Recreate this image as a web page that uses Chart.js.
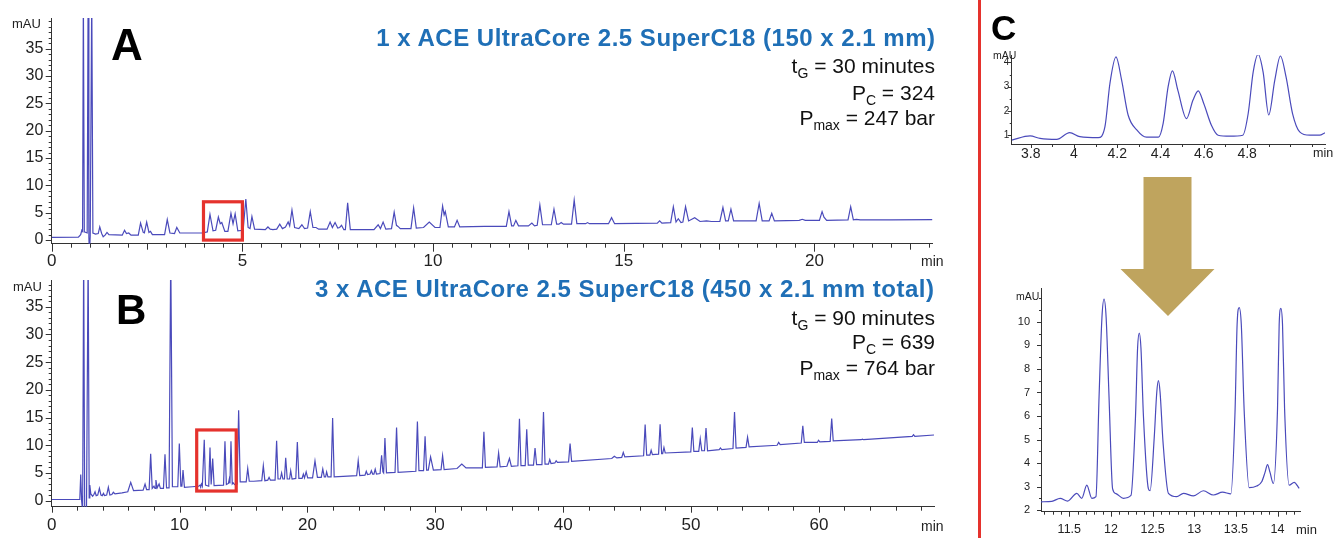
<!DOCTYPE html>
<html><head><meta charset="utf-8">
<script src="https://cdn.jsdelivr.net/npm/chart.js@4.4.1/dist/chart.umd.min.js"></script>
<style>
html,body{margin:0;padding:0;background:#fff;}
body{width:1333px;height:538px;position:relative;overflow:hidden;font-family:"Liberation Sans",Arial,sans-serif;}
canvas{position:absolute;}
.big{position:absolute;font-weight:bold;line-height:1;color:#000;white-space:nowrap;}
.ttl{position:absolute;font-weight:bold;color:#1f6fb6;white-space:nowrap;letter-spacing:0.5px;}
.row{position:absolute;color:#111;white-space:nowrap;}
.row span{position:relative;top:5px;font-size:14px;}
.lab{position:absolute;color:#222;white-space:nowrap;line-height:1;}
</style></head><body>
<canvas id="cA" width="965" height="268" style="left:0;top:0"></canvas>
<canvas id="cB" width="965" height="276" style="left:0;top:262px"></canvas>
<canvas id="cC1" width="348" height="170" style="left:985px;top:0"></canvas>
<canvas id="cC2" width="348" height="268" style="left:985px;top:270px"></canvas>

<div style="position:absolute;left:978px;top:0;width:3px;height:538px;background:#e5322d"></div>
<svg style="position:absolute;left:0;top:0" width="1333" height="538">
  <polygon points="1143.5,177 1191.5,177 1191.5,269 1214.5,269 1168,316 1120.5,269 1143.5,269" fill="#bfa45e"/>
</svg>

<div class="big" style="left:111px;top:23px;font-size:44px">A</div>
<div class="big" style="left:116px;top:289px;font-size:42px">B</div>
<div class="big" style="left:991px;top:10px;font-size:35px">C</div>

<div class="ttl" style="right:397.5px;top:26px;font-size:24px;line-height:24px">1 x ACE UltraCore 2.5 SuperC18 (150 x 2.1 mm)</div>
<div class="row" style="right:398px;top:55px;font-size:21px;line-height:21px">t<span>G</span> = 30 minutes</div>
<div class="row" style="right:398px;top:81.5px;font-size:21px;line-height:21px">P<span>C</span> = 324</div>
<div class="row" style="right:398px;top:106.5px;font-size:21px;line-height:21px">P<span>max</span> = 247 bar</div>

<div class="ttl" style="right:398.5px;top:276.5px;font-size:24px;line-height:24px">3 x ACE UltraCore 2.5 SuperC18 (450 x 2.1 mm total)</div>
<div class="row" style="right:398px;top:307px;font-size:21px;line-height:21px">t<span>G</span> = 90 minutes</div>
<div class="row" style="right:398px;top:331px;font-size:21px;line-height:21px">P<span>C</span> = 639</div>
<div class="row" style="right:398px;top:357px;font-size:21px;line-height:21px">P<span>max</span> = 764 bar</div>

<div class="lab" style="left:12px;top:17px;font-size:13px">mAU</div>
<div class="lab" style="left:13px;top:280px;font-size:13px">mAU</div>
<div class="lab" style="left:921px;top:254px;font-size:14px">min</div>
<div class="lab" style="left:921px;top:519px;font-size:14px">min</div>
<div class="lab" style="left:993px;top:50px;font-size:10.5px">mAU</div>
<div class="lab" style="left:1313px;top:147px;font-size:12.5px">min</div>
<div class="lab" style="left:1016px;top:291px;font-size:10.5px">mAU</div>
<div class="lab" style="left:1296px;top:523px;font-size:13px">min</div>

<script>
// ---------- data ----------
const chromA = [[0,0.5],[0.7,0.55],[0.76,1.0],[0.79,1.8],[0.81,1.6],[0.83,45],[0.855,1.5],[0.93,1.3],[0.955,45],[0.975,0.5],[0.99,-3],[1.01,0.8],[1.05,45],[1.08,1.3],[1.15,1.1],[1.22,1.2],[1.26,2.4],[1.31,1.2],[1.35,0.6],[1.40,0.9],[1.45,1.4],[1.50,1.0],[1.85,0.9],[1.91,1.8],[1.96,1.2],[2.02,1.3],[2.08,0.9],[2.27,0.9],[2.33,3.1],[2.40,1.4],[2.43,1.3],[2.49,3.3],[2.55,1.4],[2.59,1.6],[2.64,1.0],[2.96,1.0],[3.03,3.75],[3.10,1.3],[3.22,1.2],[3.28,2.3],[3.36,1.3],[3.95,1.3],[4.08,1.5],[4.15,4.7],[4.23,1.7],[4.30,1.8],[4.37,4.2],[4.42,3.0],[4.46,3.2],[4.54,1.6],[4.62,1.6],[4.70,4.9],[4.755,3.0],[4.81,4.8],[4.88,1.7],[5.02,1.8],[5.09,7.5],[5.15,2.3],[5.20,2.1],[5.25,4.3],[5.32,2.0],[5.60,1.9],[5.67,2.4],[5.73,2.0],[5.80,1.9],[5.90,2.0],[5.98,2.9],[6.05,2.1],[6.13,2.4],[6.20,3.3],[6.24,2.6],[6.30,5.5],[6.37,2.3],[6.48,2.1],[6.56,2.8],[6.63,2.1],[6.71,2.2],[6.78,5.2],[6.85,2.3],[6.93,2.3],[7.0,2.0],[7.22,2.0],[7.30,3.3],[7.36,2.3],[7.43,3.2],[7.50,2.2],[7.55,2.3],[7.60,2.7],[7.66,1.9],[7.70,1.9],[7.76,6.8],[7.83,1.9],[8.45,1.9],[8.56,2.8],[8.62,2.1],[8.69,3.3],[8.76,2.0],[8.91,2.1],[8.98,5.1],[9.04,2.7],[9.08,2.5],[9.14,2.1],[9.42,2.1],[9.49,5.9],[9.56,2.2],[9.75,2.3],[9.90,3.3],[10.05,2.3],[10.18,2.3],[10.25,6.2],[10.29,4.6],[10.32,5.2],[10.40,2.4],[10.56,2.4],[10.63,3.6],[10.70,2.4],[11.35,2.5],[11.92,2.5],[11.99,5.2],[12.06,2.6],[12.11,2.6],[12.17,3.6],[12.24,2.6],[12.50,2.6],[12.59,3.1],[12.66,2.6],[12.73,2.7],[12.80,6.4],[12.87,2.8],[13.10,2.8],[13.17,5.65],[13.24,2.9],[13.30,2.9],[13.36,3.2],[13.42,2.9],[13.63,2.9],[13.70,7.3],[13.77,3.0],[14.00,3.0],[14.05,3.2],[14.10,3.0],[14.60,3.0],[14.68,4.1],[14.76,3.0],[15.88,3.1],[15.94,3.5],[16.00,3.1],[16.23,3.2],[16.30,6.1],[16.37,3.3],[16.43,3.9],[16.50,3.2],[16.55,3.3],[16.62,6.1],[16.70,3.5],[16.86,4.1],[17.0,3.4],[17.17,3.5],[17.30,3.4],[17.52,3.4],[17.60,5.95],[17.67,3.5],[17.74,3.5],[17.81,5.65],[17.88,3.5],[18.47,3.5],[18.55,6.7],[18.63,3.5],[18.81,3.5],[18.88,4.9],[18.95,3.5],[19.6,3.6],[19.68,3.8],[19.76,3.6],[20.13,3.6],[20.20,5.2],[20.25,4.2],[20.32,3.6],[20.88,3.7],[20.95,6.1],[21.02,3.7],[21.1,3.8],[21.2,3.7],[22.0,3.7],[23.1,3.75]];

const chromB = [[0,0.2],[2.15,0.2],[2.2,0.4],[2.27,4.7],[2.34,0.0],[2.42,-2],[2.50,45],[2.58,-2],[2.72,-2],[2.85,45],[2.93,0.5],[2.98,2.8],[3.06,1.2],[3.2,0.8],[3.30,1.1],[3.39,1.6],[3.48,0.9],[3.60,1.0],[3.73,2.2],[3.85,1.0],[3.95,0.9],[4.05,1.3],[4.13,0.9],[4.30,1.0],[4.43,2.4],[4.55,1.0],[4.70,1.1],[4.82,1.5],[4.95,1.2],[5.5,1.4],[5.95,1.6],[6.18,3.3],[6.40,1.8],[7.15,1.9],[7.30,3.0],[7.42,2.0],[7.62,2.0],[7.74,8.45],[7.86,2.2],[8.0,2.6],[8.08,2.2],[8.15,3.7],[8.25,2.3],[8.40,3.0],[8.50,2.2],[8.74,2.2],[8.86,8.35],[8.98,2.3],[9.18,2.3],[9.31,45],[9.44,2.5],[9.86,2.5],[9.98,10.3],[10.10,2.6],[10.18,2.6],[10.27,5.5],[10.38,2.4],[11.0,2.5],[11.5,2.6],[11.60,2.8],[11.65,2.6],[11.71,3.0],[11.78,2.6],[11.83,2.6],[11.93,11.0],[12.03,2.8],[12.28,2.6],[12.38,9.6],[12.47,2.9],[12.59,7.6],[12.70,2.7],[13.44,2.8],[13.55,10.7],[13.66,2.9],[13.82,3.1],[13.89,3.9],[13.94,3.1],[14.02,10.7],[14.12,3.0],[14.20,3.2],[14.30,2.9],[14.50,3.0],[14.62,16.3],[14.74,3.4],[15.21,3.4],[15.33,5.8],[15.45,3.5],[15.8,3.5],[16.43,3.6],[16.55,6.3],[16.67,3.6],[16.90,3.7],[17.0,4.2],[17.10,3.7],[17.47,3.7],[17.59,10.8],[17.70,3.9],[17.88,3.9],[17.98,5.0],[18.08,3.9],[18.20,3.9],[18.30,7.75],[18.42,3.9],[18.60,3.9],[18.69,5.4],[18.80,3.9],[19.09,4.0],[19.21,10.6],[19.33,4.0],[19.58,4.0],[19.68,4.8],[19.77,4.1],[19.90,5.2],[20.02,4.1],[20.40,4.1],[20.59,7.15],[20.78,4.2],[21.08,4.2],[21.20,5.7],[21.32,4.3],[21.42,4.3],[21.50,5.2],[21.60,4.3],[21.85,4.3],[21.97,14.9],[22.09,4.3],[23.85,4.5],[23.97,7.2],[24.09,4.5],[24.5,4.6],[24.6,5.3],[24.7,4.7],[24.9,4.8],[25.0,5.4],[25.1,4.8],[25.2,4.8],[25.3,5.7],[25.4,4.8],[25.68,4.9],[25.80,8.2],[25.90,5.2],[25.96,5.0],[26.06,11.3],[26.18,5.0],[26.85,5.1],[26.97,13.2],[27.09,5.1],[28.48,5.3],[28.60,14.3],[28.72,5.4],[29.08,5.4],[29.20,11.6],[29.32,5.5],[29.45,5.5],[29.63,7.9],[29.85,5.5],[30.45,5.6],[30.57,8.1],[30.69,5.6],[31.7,5.8],[32.07,6.6],[32.4,5.9],[33.68,5.9],[33.80,12.45],[33.92,6.0],[34.83,6.1],[34.95,8.6],[35.07,6.1],[35.60,6.2],[35.80,7.6],[35.95,6.2],[36.46,6.3],[36.58,14.8],[36.70,6.3],[37.03,6.3],[37.15,12.9],[37.27,6.4],[37.68,6.4],[37.80,9.5],[37.92,6.5],[38.34,6.5],[38.46,16.0],[38.58,6.6],[38.85,6.6],[38.95,7.4],[39.05,6.7],[39.35,6.8],[39.45,7.2],[39.55,6.9],[40.42,7.0],[40.54,10.3],[40.66,7.1],[43.8,7.6],[44.0,8.0],[44.2,7.7],[44.58,7.8],[44.70,8.7],[44.82,7.9],[46.29,8.1],[46.41,13.75],[46.53,8.2],[46.78,8.2],[46.88,9.1],[46.98,8.3],[47.46,8.4],[47.58,13.8],[47.70,8.5],[47.78,8.5],[47.88,9.6],[47.98,8.6],[49.98,8.8],[50.10,13.2],[50.22,8.9],[50.60,8.9],[50.72,11.15],[50.84,9.0],[51.05,9.0],[51.17,13.1],[51.29,9.0],[52.2,9.2],[52.3,9.5],[52.4,9.2],[53.28,9.4],[53.40,16.0],[53.52,9.5],[54.30,9.6],[54.42,11.45],[54.54,9.7],[56.73,10.0],[56.85,10.5],[56.97,10.1],[58.62,10.4],[58.74,13.5],[58.86,10.5],[59.87,10.5],[59.97,10.9],[60.07,10.6],[60.88,10.7],[61.00,14.8],[61.12,10.8],[63.3,11.0],[63.4,11.1],[63.5,11.0],[67.3,11.6],[67.4,11.9],[67.5,11.6],[69,11.85]];

const chromCTop = [[3.712,0.81],[3.797,0.98],[3.843,0.88],[3.92,0.84],[3.98,1.12],[4.027,0.95],[4.112,0.91],[4.143,1.36],[4.166,3.13],[4.194,4.22],[4.22,3.27],[4.25,1.84],[4.29,1.23],[4.335,0.93],[4.39,0.93],[4.412,1.5],[4.435,3.0],[4.455,3.65],[4.48,2.85],[4.52,1.69],[4.55,2.45],[4.574,2.83],[4.6,2.3],[4.635,1.42],[4.666,1.01],[4.72,0.97],[4.78,1.01],[4.805,1.9],[4.828,3.6],[4.851,4.33],[4.874,3.6],[4.9,1.84],[4.928,3.27],[4.954,4.26],[4.98,3.4],[5.01,1.9],[5.043,1.15],[5.09,1.01],[5.135,1.01],[5.16,1.11]];

const chromCBot = [[11.16,2.35],[11.29,2.37],[11.39,2.5],[11.48,2.38],[11.59,2.71],[11.65,2.5],[11.71,3.06],[11.77,2.5],[11.82,2.57],[11.857,6.8],[11.892,10.2],[11.917,10.97],[11.942,10.2],[11.977,6.8],[12.02,2.9],[12.06,2.7],[12.15,2.5],[12.24,2.62],[12.295,6.0],[12.32,8.9],[12.34,9.52],[12.36,8.9],[12.39,6.0],[12.45,2.9],[12.47,2.82],[12.52,5.1],[12.55,7.0],[12.57,7.5],[12.59,7.0],[12.625,4.9],[12.69,2.71],[12.79,2.57],[12.87,2.71],[12.99,2.6],[13.11,2.82],[13.23,2.64],[13.34,2.76],[13.44,2.69],[13.49,6.2],[13.515,9.9],[13.54,10.61],[13.565,9.9],[13.6,6.2],[13.66,2.95],[13.75,3.02],[13.81,3.2],[13.85,3.6],[13.88,3.93],[13.91,3.6],[13.95,3.13],[14.0,6.3],[14.02,9.9],[14.04,10.58],[14.06,9.9],[14.085,6.3],[14.14,3.06],[14.2,3.18],[14.26,2.92]];

// tick labels
const aXTicks = [0,5,10,15,20];
const bXTicks = [0,10,20,30,40,50,60];
const abYTicks = [0,5,10,15,20,25,30,35];
const cTopXTicks = [3.8,4,4.2,4.4,4.6,4.8];
const cTopYTicks = [1,2,3,4];
const cBotXTicks = [11.5,12,12.5,13,13.5,14];
const cBotYTicks = [2,3,4,5,6,7,8,9,10];
// highlighted regions [xFrom, xTo, yFrom, yTo]
const boxA = [3.98, 5.0, 0, 7.0];
const boxB = [11.34, 14.43, 1.73, 12.76];

// ---------- drawing ----------
const LINE = '#4a4abb', AX = '#333', TC = '#222', FF = '"Liberation Sans", Arial, sans-serif';
function steps(a, b, s) { const r = []; for (let i = 0; a + i * s <= b + 1e-9; i++) r.push(+(a + i * s).toFixed(4)); return r; }

const tickPlugin = {
  id: 'tickDraw',
  afterDatasetsDraw(chart, args, opts) {
    const c = chart.ctx, sx = chart.scales.x, sy = chart.scales.y;
    if (opts.box) {
      const [x1, x2, y1, y2] = opts.box;
      const px1 = sx.getPixelForValue(x1), px2 = sx.getPixelForValue(x2);
      const py1 = sy.getPixelForValue(y2), py2 = sy.getPixelForValue(y1);
      c.save(); c.strokeStyle = '#e5322d'; c.lineWidth = 3.2;
      c.strokeRect(px1, py1, px2 - px1, py2 - py1); c.restore();
    }
  },
  afterDraw(chart, args, opts) {
    const c = chart.ctx, sx = chart.scales.x, sy = chart.scales.y, a = chart.chartArea;
    c.save(); c.strokeStyle = AX; c.lineWidth = 1;
    (opts.list || []).forEach(g => {
      g.values.forEach(v => {
        c.beginPath();
        if (g.axis === 'x') {
          if (v < sx.min - 1e-9 || v > sx.max + 1e-9) return;
          const px = Math.round(sx.getPixelForValue(v)) + 0.5;
          c.moveTo(px, a.bottom); c.lineTo(px, a.bottom + g.len);
        } else {
          if (v < sy.min - 1e-9 || v > sy.max + 1e-9) return;
          const py = Math.round(sy.getPixelForValue(v)) + 0.5;
          c.moveTo(a.left, py); c.lineTo(a.left - g.len, py);
        }
        c.stroke();
      });
    });
    c.restore();
  }
};

function makeChart(id, o) {
  return new Chart(document.getElementById(id), {
    type: 'line',
    data: { datasets: [{
      data: o.pts.map(p => ({ x: p[0], y: p[1] })),
      borderColor: LINE, borderWidth: o.bw, pointRadius: 0, fill: false,
      tension: 0, cubicInterpolationMode: o.smooth ? 'monotone' : 'default'
    }] },
    options: {
      responsive: false, animation: false, events: [],
      layout: { padding: o.pad },
      plugins: { legend: { display: false }, tooltip: { enabled: false },
        tickDraw: { list: o.tickList, box: o.box } },
      scales: {
        x: { type: 'linear', min: o.xr[0], max: o.xr[1],
          afterFit: s => { s.height = o.xh; },
          afterBuildTicks: s => { s.ticks = o.xt.map(v => ({ value: v })); },
          grid: { display: true, drawOnChartArea: false, drawTicks: false },
          border: { display: true, color: AX, width: 1 },
          ticks: { font: { size: o.xfs, family: FF }, color: TC, padding: o.xpad, maxRotation: 0, autoSkip: false,
            callback: v => String(v) } },
        y: { type: 'linear', min: o.yr[0], max: o.yr[1],
          afterFit: s => { s.width = o.yw; },
          afterBuildTicks: s => { s.ticks = o.yt.map(v => ({ value: v })); },
          grid: { display: true, drawOnChartArea: false, drawTicks: false },
          border: { display: true, color: AX, width: 1 },
          ticks: { font: { size: o.yfs, family: FF }, color: TC, padding: o.ypad, autoSkip: false,
            callback: v => String(v) } }
      }
    },
    plugins: [tickPlugin]
  });
}

makeChart('cA', {
  pts: chromA, bw: 1.2, smooth: false,
  pad: { left: 0, top: 12.7, right: 965 - 932.3, bottom: 0 },
  xh: 268 - 243.7, yw: 51.7, xr: [0, 23.09], yr: [-0.66, 40.59],
  xt: aXTicks, yt: abYTicks, xfs: 17, yfs: 16, xpad: 7.8, ypad: 8.4,
  box: boxA,
  tickList: [
    { axis: 'x', values: steps(0, 23, 0.5), len: 4 },
    { axis: 'x', values: steps(0, 22.5, 2.5), len: 6 },
    { axis: 'x', values: aXTicks, len: 8 },
    { axis: 'y', values: steps(0, 40, 1), len: 3 },
    { axis: 'y', values: abYTicks, len: 6 } ]
});

makeChart('cB', {
  pts: chromB, bw: 1.2, smooth: false,
  pad: { left: 0, top: 13, right: 965 - 934, bottom: 0 },
  xh: 276 - 244.7, yw: 51.7, xr: [0, 69], yr: [-1.1, 39.84],
  xt: bXTicks, yt: abYTicks, xfs: 17, yfs: 16, xpad: 8.8, ypad: 8.4,
  box: boxB,
  tickList: [
    { axis: 'x', values: steps(0, 68, 2), len: 4 },
    { axis: 'x', values: bXTicks, len: 6 },
    { axis: 'y', values: steps(0, 39, 1), len: 3 },
    { axis: 'y', values: abYTicks, len: 6 } ]
});

makeChart('cC1', {
  pts: chromCTop, bw: 1.2, smooth: true,
  pad: { left: 0, top: 55, right: 8, bottom: 0 },
  xh: 26, yw: 26.7, xr: [3.712, 5.16], yr: [0.65, 4.3],
  xt: cTopXTicks, yt: cTopYTicks, xfs: 14, yfs: 10, xpad: 1.5, ypad: 2.4,
  tickList: [
    { axis: 'x', values: steps(3.8, 5.1, 0.1), len: 3 },
    { axis: 'x', values: cTopXTicks, len: 4 },
    { axis: 'y', values: steps(1, 4, 0.5), len: 2 },
    { axis: 'y', values: cTopYTicks, len: 4 } ]
});

makeChart('cC2', {
  pts: chromCBot, bw: 1.2, smooth: true,
  pad: { left: 0, top: 18.3, right: 33, bottom: 0 },
  xh: 268 - 241.7, yw: 56, xr: [11.16, 14.27], yr: [1.93, 11.43],
  xt: cBotXTicks, yt: cBotYTicks, xfs: 12.5, yfs: 11, xpad: 10, ypad: 11,
  tickList: [
    { axis: 'x', values: steps(11.2, 14.2, 0.1), len: 3 },
    { axis: 'x', values: cBotXTicks, len: 5 },
    { axis: 'y', values: steps(2, 11, 0.5), len: 2 },
    { axis: 'y', values: cBotYTicks, len: 4 } ]
});
</script>
</body></html>
